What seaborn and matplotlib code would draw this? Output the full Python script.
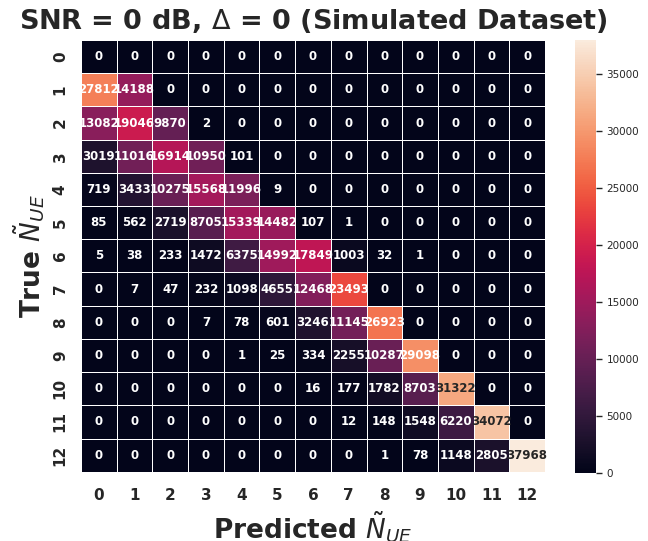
import numpy as np
import pandas as pd
import seaborn as sns
import matplotlib.pyplot as plt

# %% Data (confusion matrix, rows = true, cols = predicted)

lst_labels = [str(i) for i in range(13)]

row_00 = [0, 0, 0, 0, 0, 0, 0, 0, 0, 0, 0, 0, 0]
row_01 = [27812, 14188, 0, 0, 0, 0, 0, 0, 0, 0, 0, 0, 0]
row_02 = [13082, 19046, 9870, 2, 0, 0, 0, 0, 0, 0, 0, 0, 0]
row_03 = [3019, 11016, 16914, 10950, 101, 0, 0, 0, 0, 0, 0, 0, 0]
row_04 = [719, 3433, 10275, 15568, 11996, 9, 0, 0, 0, 0, 0, 0, 0]
row_05 = [85, 562, 2719, 8705, 15339, 14482, 107, 1, 0, 0, 0, 0, 0]
row_06 = [5, 38, 233, 1472, 6375, 14992, 17849, 1003, 32, 1, 0, 0, 0]
row_07 = [0, 7, 47, 232, 1098, 4655, 12468, 23493, 0, 0, 0, 0, 0]
row_08 = [0, 0, 0, 7, 78, 601, 3246, 11145, 26923, 0, 0, 0, 0]
row_09 = [0, 0, 0, 0, 1, 25, 334, 2255, 10287, 29098, 0, 0, 0]
row_10 = [0, 0, 0, 0, 0, 0, 16, 177, 1782, 8703, 31322, 0, 0]
row_11 = [0, 0, 0, 0, 0, 0, 0, 12, 148, 1548, 6220, 34072, 0]
row_12 = [0, 0, 0, 0, 0, 0, 0, 0, 1, 78, 1148, 2805, 37968]

lst_rows = [row_00, row_01, row_02, row_03, row_04, row_05, row_06,
            row_07, row_08, row_09, row_10, row_11, row_12]

df_cm = pd.DataFrame(np.array(lst_rows), index=lst_labels, columns=lst_labels)

# %% Plot

sns.set_theme(style="white")

fig = plt.figure(figsize=(6.48, 5.41), dpi=100)
ax = fig.add_axes([0.125, 0.128, 0.716, 0.798])
cax = fig.add_axes([0.888, 0.126, 0.032, 0.80])

sns.heatmap(df_cm, annot=True, fmt="d", cmap="rocket", linewidths=0.5,
            linecolor="white", annot_kws={"size": 8.5, "weight": "bold"},
            cbar_ax=cax, ax=ax)

ax.set_title("SNR = 0 dB, $\\Delta$ = 0 (Simulated Dataset)",
             fontsize=19.5, fontweight="bold", pad=8)
ax.set_xlabel("Predicted $\\tilde{N}_{UE}$", fontsize=19, fontweight="bold")
ax.set_ylabel("True $\\tilde{N}_{UE}$", fontsize=19, fontweight="bold")
ax.tick_params(axis="x", pad=6)
plt.setp(ax.get_xticklabels(), fontsize=11, fontweight="bold", rotation=0)
plt.setp(ax.get_yticklabels(), fontsize=11, fontweight="bold", rotation=90,
         va="center")

cax.tick_params(labelsize=7.5, length=4, width=1, direction="out", right=True)

fig.savefig("out.png")
